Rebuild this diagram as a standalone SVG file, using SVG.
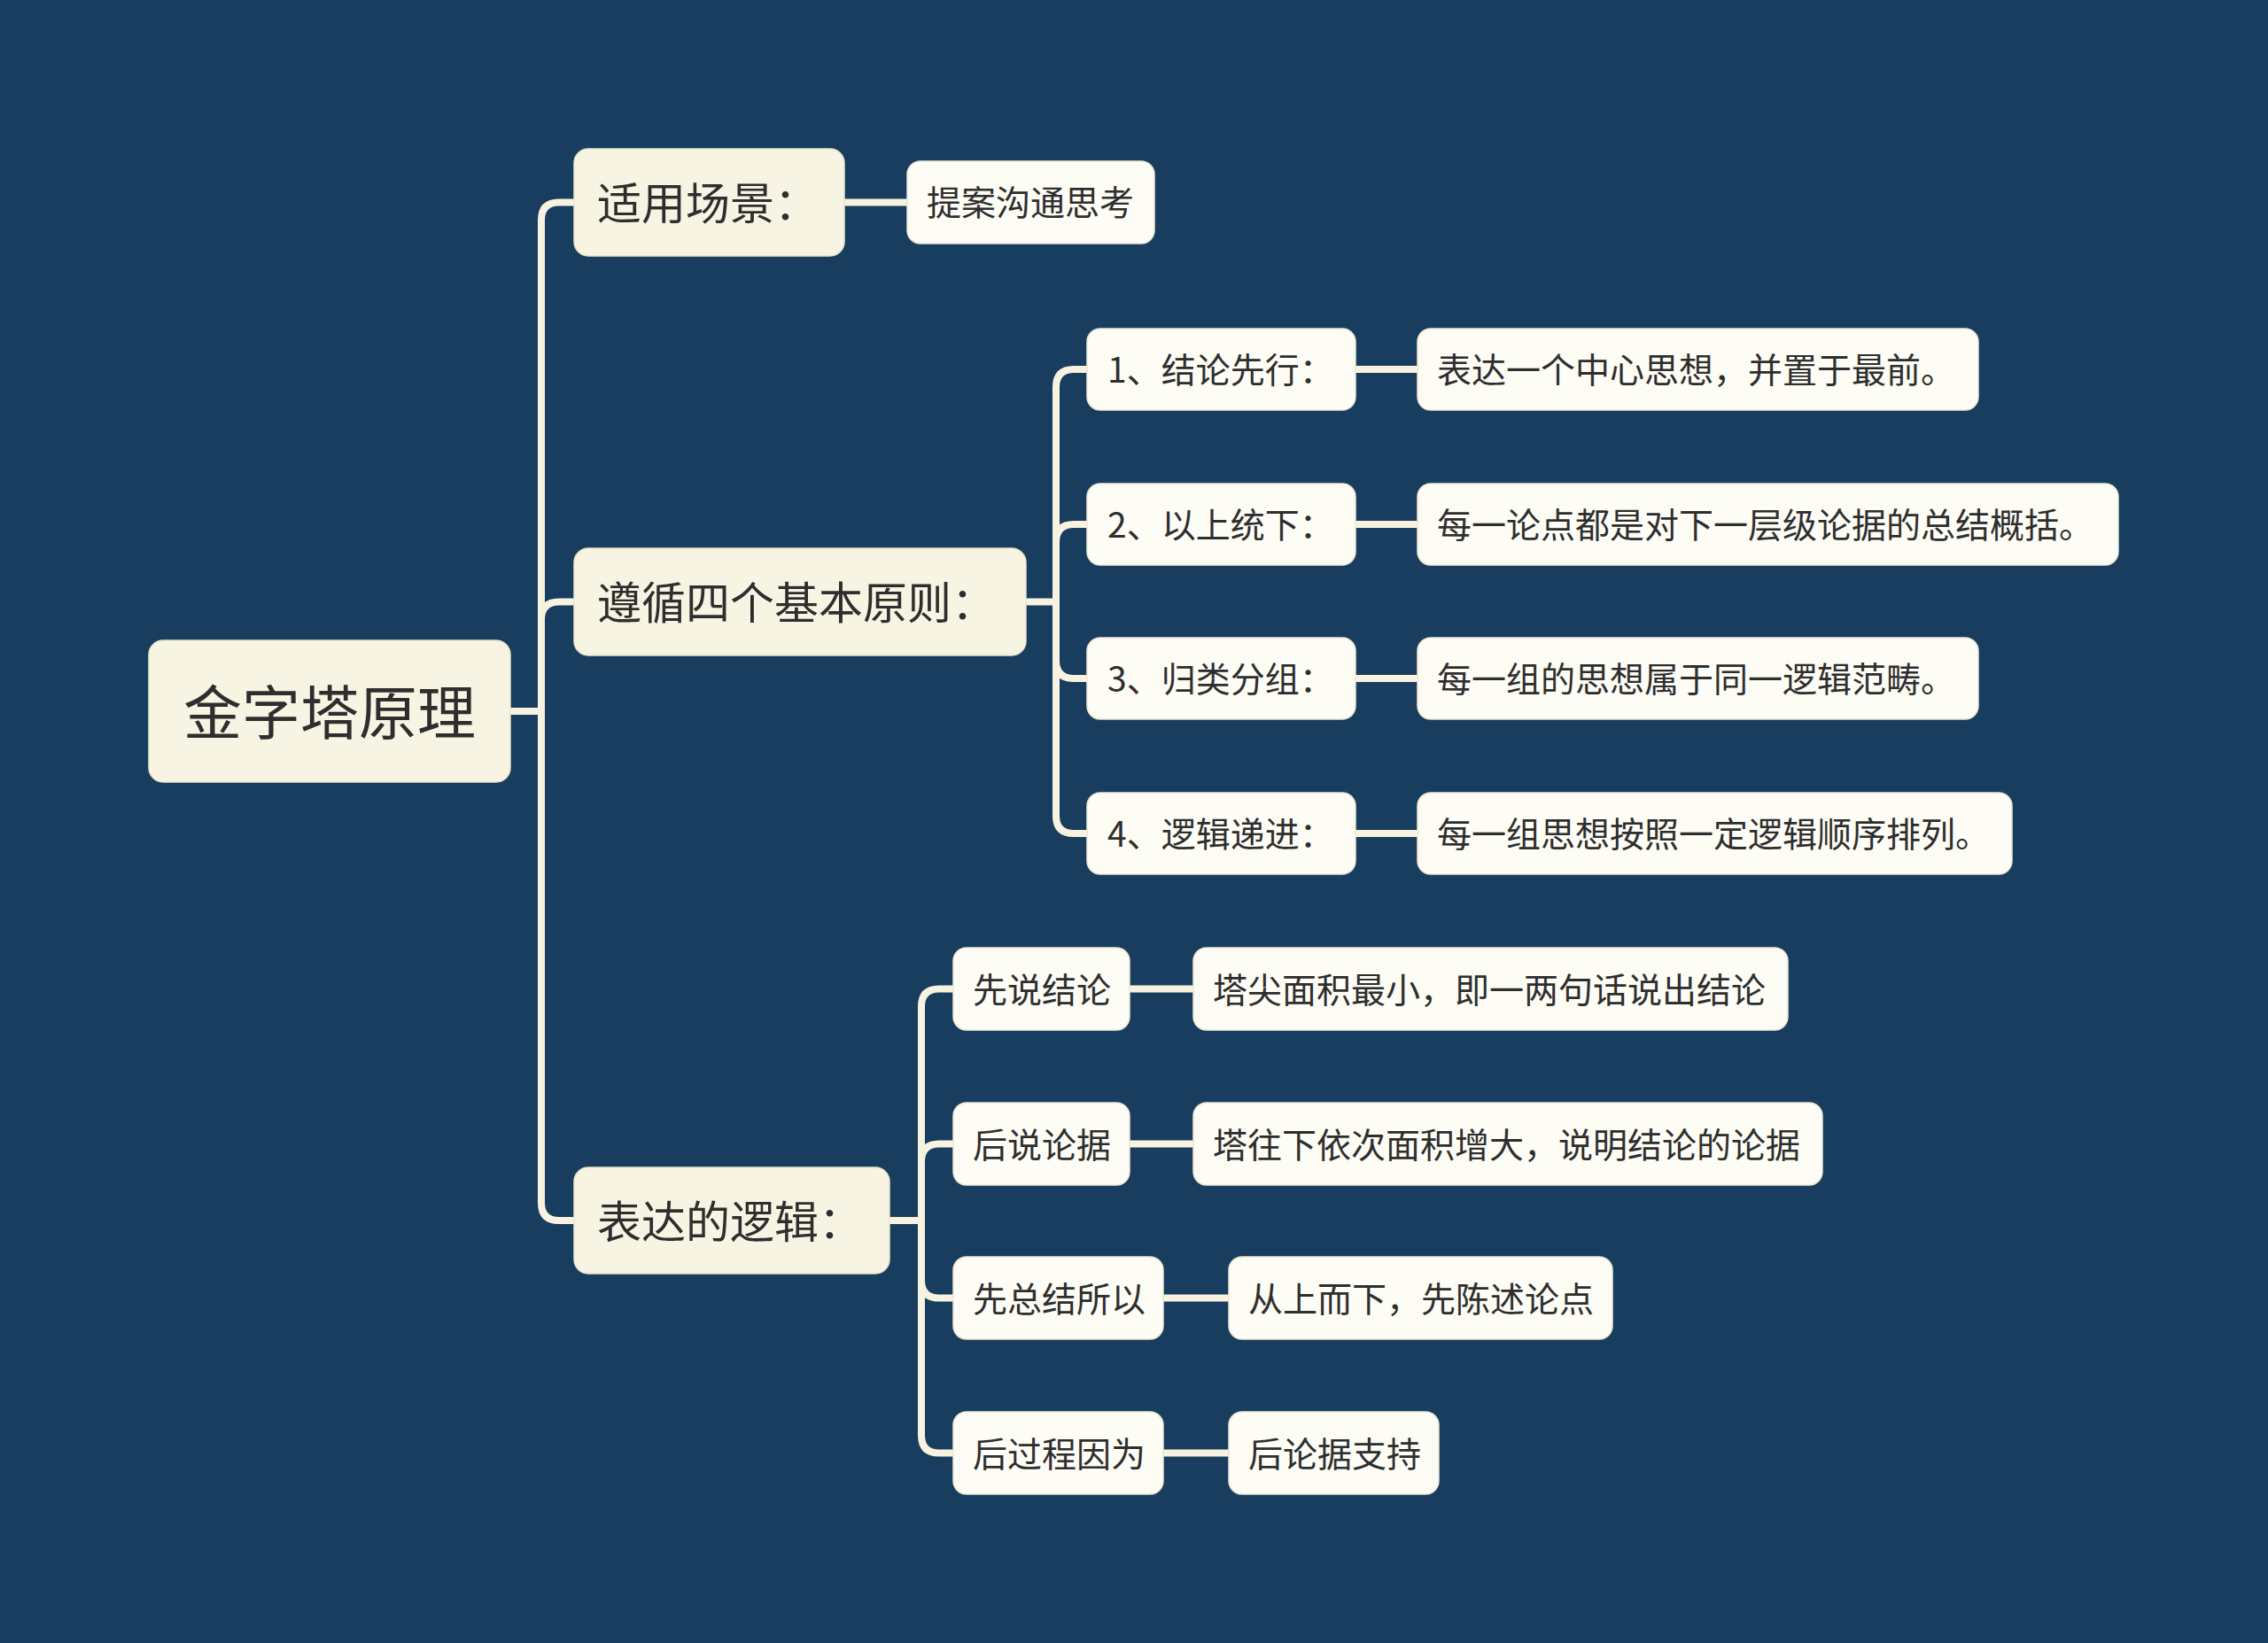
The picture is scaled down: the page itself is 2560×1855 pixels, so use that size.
<svg xmlns="http://www.w3.org/2000/svg" width="2560" height="1855" viewBox="0 0 2560 1855">
<style>
.bg{fill:#183d5e}
.c{fill:none;stroke:#f7f3e0;stroke-width:8;stroke-linecap:round;stroke-linejoin:round}
.r{fill:#f8f4e3;stroke:#e9e3c9;stroke-width:1.5}
.l1{fill:#f8f4e3;stroke:#e9e3c9;stroke-width:1.5}
.l2{fill:#fdfcf5;stroke:#ece8d6;stroke-width:1.5}
text{font-family:"Noto Sans CJK SC","Noto Sans",sans-serif;fill:#2e2e2e;dominant-baseline:central}
.tr{font-size:66px;text-anchor:middle}
.t1{font-size:50px}
.t2{font-size:39px}
</style>
<rect class="bg" x="0" y="0" width="2560" height="1855"/>
<g id="connectors">
<path class="c" d="M576,803 H611"/>
<path class="c" d="M611,803 V248.5 Q611,228.5 631,228.5 H648"/>
<path class="c" d="M611,803 V699.5 Q611,679.5 631,679.5 H648"/>
<path class="c" d="M611,803 V1358 Q611,1378 631,1378 H648"/>
<path class="c" d="M953,228.5 H1024"/>
<path class="c" d="M1158,679.5 H1192"/>
<path class="c" d="M1192,679.5 V437 Q1192,417 1212,417 H1227"/>
<path class="c" d="M1192,679.5 V612 Q1192,592 1212,592 H1227"/>
<path class="c" d="M1192,679.5 V746 Q1192,766 1212,766 H1227"/>
<path class="c" d="M1192,679.5 V921 Q1192,941 1212,941 H1227"/>
<path class="c" d="M1530,417 H1600"/>
<path class="c" d="M1530,592 H1600"/>
<path class="c" d="M1530,766 H1600"/>
<path class="c" d="M1530,941 H1600"/>
<path class="c" d="M1004,1378 H1040"/>
<path class="c" d="M1040,1378 V1136.5 Q1040,1116.5 1060,1116.5 H1076"/>
<path class="c" d="M1040,1378 V1311.5 Q1040,1291.5 1060,1291.5 H1076"/>
<path class="c" d="M1040,1378 V1445.5 Q1040,1465.5 1060,1465.5 H1076"/>
<path class="c" d="M1040,1378 V1620.5 Q1040,1640.5 1060,1640.5 H1076"/>
<path class="c" d="M1275,1116.5 H1347"/>
<path class="c" d="M1275,1291.5 H1347"/>
<path class="c" d="M1313,1465.5 H1387"/>
<path class="c" d="M1313,1640.5 H1387"/>
</g>
<g id="root"><rect class="r" x="168" y="723" width="408" height="160" rx="16"/><text class="tr" x="372" y="800">金字塔原理</text></g>
<g id="n-scene"><rect class="l1" x="648" y="168" width="305" height="121" rx="16"/><text class="t1" x="674" y="226">适用场景：</text></g>
<g id="n-scene-1"><rect class="l2" x="1024" y="182" width="279" height="93" rx="15"/><text class="t2" x="1046" y="226">提案沟通思考</text></g>
<g id="n-principles"><rect class="l1" x="648" y="619" width="510" height="121" rx="16"/><text class="t1" x="674" y="677">遵循四个基本原则：</text></g>
<g id="n-p1"><rect class="l2" x="1227" y="371" width="303" height="92" rx="15"/><text class="t2" x="1250" y="415">1、结论先行：</text></g>
<g id="n-p1d"><rect class="l2" x="1600" y="371" width="633" height="92" rx="15"/><text class="t2" x="1622" y="415">表达一个中心思想，并置于最前。</text></g>
<g id="n-p2"><rect class="l2" x="1227" y="546" width="303" height="92" rx="15"/><text class="t2" x="1250" y="590">2、以上统下：</text></g>
<g id="n-p2d"><rect class="l2" x="1600" y="546" width="791" height="92" rx="15"/><text class="t2" x="1622" y="590">每一论点都是对下一层级论据的总结概括。</text></g>
<g id="n-p3"><rect class="l2" x="1227" y="720" width="303" height="92" rx="15"/><text class="t2" x="1250" y="764">3、归类分组：</text></g>
<g id="n-p3d"><rect class="l2" x="1600" y="720" width="633" height="92" rx="15"/><text class="t2" x="1622" y="764">每一组的思想属于同一逻辑范畴。</text></g>
<g id="n-p4"><rect class="l2" x="1227" y="895" width="303" height="92" rx="15"/><text class="t2" x="1250" y="939">4、逻辑递进：</text></g>
<g id="n-p4d"><rect class="l2" x="1600" y="895" width="671" height="92" rx="15"/><text class="t2" x="1622" y="939">每一组思想按照一定逻辑顺序排列。</text></g>
<g id="n-logic"><rect class="l1" x="648" y="1318" width="356" height="120" rx="16"/><text class="t1" x="674" y="1376">表达的逻辑：</text></g>
<g id="n-l1"><rect class="l2" x="1076" y="1070" width="199" height="93" rx="15"/><text class="t2" x="1098" y="1114.5">先说结论</text></g>
<g id="n-l1d"><rect class="l2" x="1347" y="1070" width="671" height="93" rx="15"/><text class="t2" x="1369" y="1114.5">塔尖面积最小，即一两句话说出结论</text></g>
<g id="n-l2"><rect class="l2" x="1076" y="1245" width="199" height="93" rx="15"/><text class="t2" x="1098" y="1289.5">后说论据</text></g>
<g id="n-l2d"><rect class="l2" x="1347" y="1245" width="710" height="93" rx="15"/><text class="t2" x="1369" y="1289.5">塔往下依次面积增大，说明结论的论据</text></g>
<g id="n-l3"><rect class="l2" x="1076" y="1419" width="237" height="93" rx="15"/><text class="t2" x="1098" y="1463.5">先总结所以</text></g>
<g id="n-l3d"><rect class="l2" x="1387" y="1419" width="433" height="93" rx="15"/><text class="t2" x="1409" y="1463.5">从上而下，先陈述论点</text></g>
<g id="n-l4"><rect class="l2" x="1076" y="1594" width="237" height="93" rx="15"/><text class="t2" x="1098" y="1638.5">后过程因为</text></g>
<g id="n-l4d"><rect class="l2" x="1387" y="1594" width="237" height="93" rx="15"/><text class="t2" x="1409" y="1638.5">后论据支持</text></g>
</svg>
